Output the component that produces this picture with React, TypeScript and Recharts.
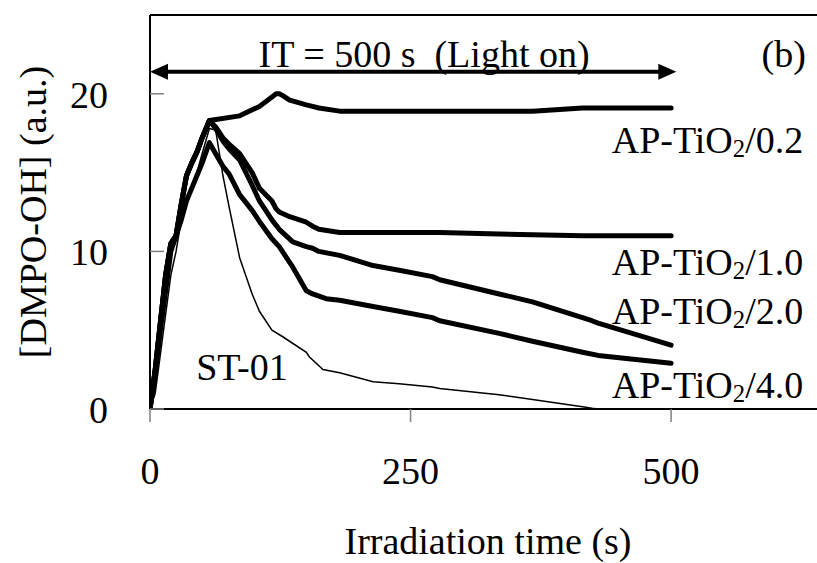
import React from 'react';
import { LineChart, Line, XAxis, YAxis, ReferenceLine, ReferenceDot } from 'recharts';

// irradiation time (s)
const times = [0, 5, 10, 15, 20, 25, 30, 35, 40, 45, 50, 57, 63, 70, 76, 86, 89, 98, 105, 117, 121, 124, 127, 134, 137, 150, 153, 156, 162, 166, 169, 182, 214, 239, 271, 278, 335, 367, 415, 424, 430, 500];

const ap02 = [0, 2.5, 5.5, 8.5, 10.5, 11, 13, 14.8, 15.6, 16.3, 17.2, 18.3, null, null, null, 18.6, 18.7, null, 19.2, 19.8, 20, 20, 19.9, 19.6, null, 19.3, null, 19.2, 19.1, null, null, 18.9, 18.9, 18.9, 18.9, 18.9, 18.9, 18.9, 19.1, null, null, 19.1];
const ap10 = [0, 2.5, 5.5, 8.5, 10.5, 11, 13, 14.8, 15.6, 16.3, 17.2, 18.3, 17.9, 17.2, 16.8, 16.2, null, 15, 14, 13.2, 12.7, 12.5, null, 12.2, null, 11.85, null, 11.6, 11.4, null, null, 11.2, 11.2, 11.2, 11.2, 11.2, 11.1, 11.05, 11, null, null, 11];
const ap20 = [0, 2.5, 5.5, 8.5, 10.5, 11, 13, 14.8, 15.6, 16.3, 17.2, 18.3, 17.8, 17, 16.5, 15.8, null, 14.2, 13.2, 12, null, 11.4, null, null, 10.6, 10.3, null, 10.2, 10, null, null, 9.75, 9.1, 8.8, 8.4, 8.2, 7.3, 6.8, 5.8, 5.6, 5.45, 4.05];
const ap40 = [0, 2.3, 5, 7.5, 10, 11, 12, 13.2, 14, 14.8, 15.6, 16.9, 16.2, 15.4, 14.9, 13.6, null, 12.6, 11.9, 10.8, null, 10.3, null, null, 9, 7.5, null, 7.3, null, null, 7, 6.9, 6.5, 6.2, 5.8, 5.6, 4.8, 4.3, 3.6, null, 3.4, 2.9];
const st01 = [0, 1, 3.5, 6, 8.5, 10, 12, 13.3, 14, 15, 16.2, 17.8, 17.7, 14.8, 12.8, 9.6, null, 7.3, 6.2, 5, null, null, 4.6, null, null, 3.6, 3.3, null, null, 2.5, null, 2.3, 1.73, 1.6, 1.4, 1.3, 0.9, 0.6, 0.15, 0.05, 0, 0];

const xTicks = [0, 250, 500];
const yTicks = [0, 10, 20];

const seriesLabels = [
  { main: 'AP-TiO', sub: '2', tail: '/0.2', x: 443, y: 17.1 },
  { main: 'AP-TiO', sub: '2', tail: '/1.0', x: 443, y: 9.33 },
  { main: 'AP-TiO', sub: '2', tail: '/2.0', x: 443, y: 6.23 },
  { main: 'AP-TiO', sub: '2', tail: '/4.0', x: 443, y: 1.52 },
];

const data = times.map((t, i) => ({
  t,
  ap02: ap02[i],
  ap10: ap10[i],
  ap20: ap20[i],
  ap40: ap40[i],
  st01: st01[i],
}));

const FONT = '"Liberation Serif", "Times New Roman", serif';
const FS = 38;
const AXIS_X = 150;
const AXIS_Y = 409;

const YTick = (props: any) => {
  const { y, payload } = props;
  return (
    <g>
      <line x1={AXIS_X} y1={y} x2={AXIS_X + 14} y2={y} stroke="#808080" strokeWidth={1.5} />
      <text x={AXIS_X - 42} y={y + 1} textAnchor="end" dominantBaseline="central" fontFamily={FONT} fontSize={FS} fill="#000">
        {payload.value}
      </text>
    </g>
  );
};

const XTick = (props: any) => {
  const { x, payload } = props;
  return (
    <g>
      <line x1={x} y1={AXIS_Y} x2={x} y2={AXIS_Y + 13} stroke="#808080" strokeWidth={1.5} />
      <text x={x} y={AXIS_Y + 62} textAnchor="middle" dominantBaseline="central" fontFamily={FONT} fontSize={FS} fill="#000">
        {payload.value}
      </text>
    </g>
  );
};

const YTitle = () => (
  <text
    x={33}
    y={212}
    transform="rotate(-90, 33, 212)"
    textAnchor="middle"
    dominantBaseline="central"
    fontFamily={FONT}
    fontSize={FS}
    fill="#000"
  >
    [DMPO-OH] (a.u.)
  </text>
);

const XTitle = () => (
  <text x={488} y={541} textAnchor="middle" dominantBaseline="central" fontFamily={FONT} fontSize={FS} fill="#000">
    Irradiation time (s)
  </text>
);

const SeriesLabel = (lbl: any) => (props: any) => {
  const { viewBox } = props;
  return (
    <text x={viewBox.x} y={viewBox.y} dominantBaseline="central" fontFamily={FONT} fontSize={FS} fill="#000">
      {lbl.main}
      <tspan fontSize={FS * 0.65} dy={8}>{lbl.sub}</tspan>
      <tspan dy={-8}>{lbl.tail}</tspan>
    </text>
  );
};

const PlainLabel = (value: string, anchor: string) => (p: any) => (
  <text
    x={p.viewBox.x}
    y={p.viewBox.y}
    textAnchor={anchor}
    dominantBaseline="central"
    fontFamily={FONT}
    fontSize={FS}
    fill="#000"
    style={{ whiteSpace: 'pre' }}
  >
    {value}
  </text>
);

const Arrow = (props: any) => {
  const { x1, y1, x2, y2 } = props;
  const h = 18;
  const w = 8;
  return (
    <g>
      <line x1={x1 + h - 2} y1={y1} x2={x2 - h + 2} y2={y2} stroke="#000" strokeWidth={4} />
      <polygon points={`${x1},${y1} ${x1 + h},${y1 - w} ${x1 + h},${y1 + w}`} fill="#000" />
      <polygon points={`${x2},${y2} ${x2 - h},${y2 - w} ${x2 - h},${y2 + w}`} fill="#000" />
    </g>
  );
};

export default function App() {
  return (
    <div style={{ width: 817, height: 563, background: '#fff' }}>
      <style>{`body{margin:0}`}</style>
      <LineChart width={817} height={563} data={data} margin={{ top: 15, right: 0, left: 0, bottom: 0 }}>
        <XAxis
          dataKey="t"
          type="number"
          domain={[0, 640]}
          ticks={xTicks}
          allowDataOverflow
          height={154}
          tickLine={false}
          tick={<XTick />}
          axisLine={{ stroke: '#000', strokeWidth: 2 }}
          label={{ content: XTitle }}
        />
        <YAxis
          type="number"
          domain={[0, 25]}
          ticks={yTicks}
          allowDataOverflow
          width={150}
          tickLine={false}
          tick={<YTick />}
          axisLine={{ stroke: '#000', strokeWidth: 2 }}
          label={{ content: YTitle }}
        />
        <ReferenceLine y={25} stroke="#000" strokeWidth={2} />
        <ReferenceLine segment={[{ x: 0, y: 21.4 }, { x: 505, y: 21.4 }]} stroke="#000" shape={<Arrow />} />
        <ReferenceDot x={263} y={22.55} r={0} label={PlainLabel('IT = 500 s  (Light on)', 'middle')} />
        <ReferenceDot x={608} y={22.55} r={0} label={PlainLabel('(b)', 'middle')} />
        <ReferenceDot x={44.3} y={2.69} r={0} label={PlainLabel('ST-01', 'start')} />
        {seriesLabels.map((l) => (
          <ReferenceDot key={l.tail} x={l.x} y={l.y} r={0} label={SeriesLabel(l)} />
        ))}
        <Line dataKey="st01" stroke="#000" strokeWidth={1.5} dot={false} connectNulls isAnimationActive={false} type="linear" />
        <Line dataKey="ap40" stroke="#000" strokeWidth={5} dot={false} connectNulls isAnimationActive={false} type="linear" strokeLinecap="round" strokeLinejoin="round" />
        <Line dataKey="ap20" stroke="#000" strokeWidth={5} dot={false} connectNulls isAnimationActive={false} type="linear" strokeLinecap="round" strokeLinejoin="round" />
        <Line dataKey="ap10" stroke="#000" strokeWidth={5} dot={false} connectNulls isAnimationActive={false} type="linear" strokeLinecap="round" strokeLinejoin="round" />
        <Line dataKey="ap02" stroke="#000" strokeWidth={5} dot={false} connectNulls isAnimationActive={false} type="linear" strokeLinecap="round" strokeLinejoin="round" />
      </LineChart>
    </div>
  );
}
